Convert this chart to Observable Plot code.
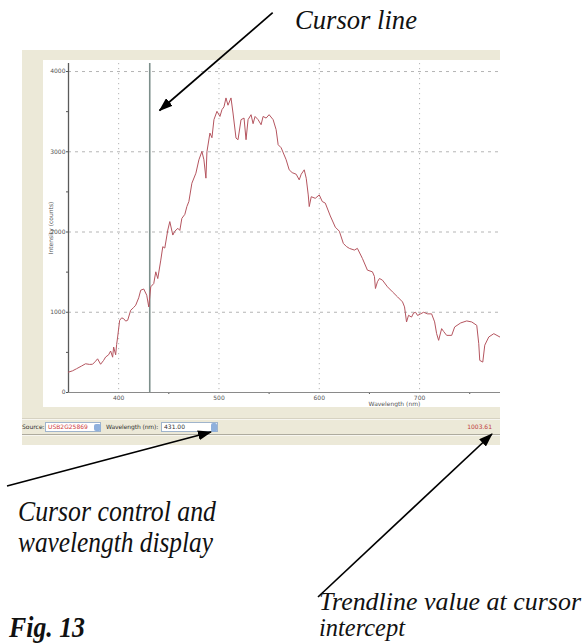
<!DOCTYPE html>
<html><head><meta charset="utf-8">
<script src="https://cdn.jsdelivr.net/npm/d3@7"></script>
<script src="https://cdn.jsdelivr.net/npm/@observablehq/plot@0.6"></script>
<style>
html,body{margin:0;padding:0;background:#fff;}
body{width:587px;height:644px;position:relative;overflow:hidden;font-family:"DejaVu Sans",sans-serif;}
.abs{position:absolute;}
#frame{left:22px;top:50px;width:478px;height:395px;background:#ece9d8;}
#plotbox{left:43px;top:60px;width:457px;height:347px;background:#fff;overflow:hidden;}
#plotbox svg{display:block;max-width:none !important;width:677px !important;height:347px !important;}
.line{height:1px;left:22px;width:478px;}
.tb{font-size:6px;color:#333;line-height:11px;white-space:nowrap;}
.box{background:#fff;border:1px solid #9fb4cc;height:10px;box-sizing:border-box;}
.spin{background:#8fb0dc;border-radius:2px;}
#overlay{left:0;top:0;pointer-events:none;}
</style></head><body>
<div id="frame" class="abs"></div>
<div id="plotbox" class="abs"></div>
<div class="abs line" style="top:418px;background:#d6d2c2"></div>
<div class="abs line" style="top:419px;background:#f7f6f0"></div>
<div class="abs line" style="top:434px;background:#aeab9e"></div>
<div class="abs line" style="top:435px;background:#f7f6f0"></div>
<div class="abs tb" style="left:22px;top:421px">Source:</div>
<div class="abs box" style="left:45px;top:422px;width:56px"></div>
<div id="src" class="abs tb" style="left:48px;top:421px;color:#d03a3a"></div>
<div class="abs spin" style="left:94px;top:424px;width:7px;height:7px"></div>
<div class="abs tb" style="left:106px;top:421px;letter-spacing:-0.1px">Wavelength (nm):</div>
<div class="abs box" style="left:161px;top:422px;width:57px"></div>
<div id="wlval" class="abs tb" style="left:164px;top:421px"></div>
<div class="abs spin" style="left:211px;top:423px;width:6px;height:9px"></div>
<div id="trend" class="abs tb" style="left:440px;top:421px;width:52px;text-align:right;color:#c04040"></div>
<svg id="overlay" class="abs" width="587" height="644"></svg>
<script>
// ---- data ----
const wavelength = [350,354,358,363,367,371,374,377,379,382,385,387,390,392,394,395,397,398,399,401,403,405,407,409,412,415,417,420,422,425,428,430,432,435,437,439,442,444,446,449,451,454,456,459,461,463,466,468,470,473,477,480,483,485,487,488,491,493,495,498,501,503,505,507,509,512,514,517,519,522,525,527,529,532,534,536,539,542,544,547,550,554,557,559,562,565,567,570,573,577,580,582,585,587,589,590,592,596,600,603,606,611,616,620,624,627,630,635,638,643,648,653,655,656,658,660,663,668,673,678,683,685,687,689,692,694,696,698,701,704,708,712,715,717,719,722,724,727,732,735,741,747,752,757,759,760,763,765,769,774,780];
const intensity = [254,270,296,330,358,350,352,390,420,352,400,442,470,517,440,567,470,600,692,900,930,920,890,900,1025,1060,1088,1180,1275,1290,1212,1067,1317,1358,1504,1420,1650,1817,1800,2025,2130,1962,2010,2046,2020,2170,2220,2317,2380,2608,2733,2900,3004,2900,2671,3000,3233,3175,3400,3504,3440,3525,3560,3671,3580,3671,3483,3171,3150,3400,3420,3150,3400,3462,3350,3440,3400,3337,3440,3420,3462,3400,3275,3088,3050,2960,2900,2775,2740,2720,2650,2720,2775,2670,2462,2317,2440,2420,2462,2380,2360,2200,2060,2010,1858,1820,1796,1775,1796,1671,1525,1504,1446,1296,1380,1421,1400,1317,1254,1192,1129,1067,879,962,940,990,1000,960,980,1000,980,980,880,733,650,796,760,712,712,817,867,892,879,837,608,400,379,590,692,733,692];
const xMajorTicks = [400,500,600,700];
const xMinorTicks = [450,550,650,750];
const yMajorTicks = [0,1000,2000,3000,4000];
const yMinorTicks = [500,1500,2500,3500];
const cursorWavelength = 431.00;
const trendlineValue = 1003.61;
const sourceName = "USB2G25869";

const rows = wavelength.map((w,i)=>({w, v: intensity[i]}));
const font = "DejaVu Sans, sans-serif";
const chart = Plot.plot({
  width: 677, height: 347,
  marginLeft: 25, marginRight: 0, marginTop: 3, marginBottom: 15,
  style: {fontFamily: font, fontSize: "6px", color: "#555", background: "transparent", overflow: "visible", maxWidth: "none"},
  x: {domain: [350, 1000]},
  y: {domain: [0, 4100]},
  marks: [
    Plot.gridY({ticks: yMajorTicks.slice(1), stroke: "#a8a8a8", strokeOpacity: 0.85, strokeDasharray: "3,4"}),
    Plot.gridX({ticks: xMajorTicks, stroke: "#a8a8a8", strokeOpacity: 0.85, strokeDasharray: "1.2,3.8"}),
    Plot.axisY({ticks: yMajorTicks, tickSize: 2, tickPadding: 1, tickFormat: d => String(d), label: "Intensity (counts)", labelAnchor: "center", labelOffset: 20, labelArrow: false}),
    Plot.axisY({ticks: yMinorTicks, tickSize: 2, tickFormat: () => "", label: null}),
    Plot.axisX({ticks: xMajorTicks, tickSize: 0, tickPadding: 3, tickFormat: d => String(d), label: "Wavelength (nm)", labelAnchor: "center", labelOffset: 13, labelArrow: false}),
    Plot.axisX({ticks: xMinorTicks, tickSize: 2, tickFormat: () => "", label: null}),
    Plot.ruleY([0], {stroke: "#8a8a8a", strokeWidth: 1}),
    Plot.ruleX([350], {stroke: "#5a5a5a", strokeWidth: 1.3}),
    Plot.ruleX([cursorWavelength], {stroke: "#7d8f8b", strokeWidth: 1.6}),
    Plot.line(rows, {x: "w", y: "v", stroke: "#b5555f", strokeWidth: 1})
  ]
});
document.getElementById("plotbox").appendChild(chart);
document.getElementById("src").textContent = sourceName;
document.getElementById("wlval").textContent = cursorWavelength.toFixed(2);
document.getElementById("trend").textContent = trendlineValue.toFixed(2);

// ---- annotation overlay ----
const ov = d3.select("#overlay");
ov.append("defs").append("marker")
  .attr("id", "ah").attr("viewBox", "0 0 14 10").attr("refX", 13).attr("refY", 5)
  .attr("markerWidth", 14).attr("markerHeight", 10).attr("markerUnits", "userSpaceOnUse")
  .attr("orient", "auto")
  .append("path").attr("d", "M0,0L14,5L0,10Z").attr("fill", "#000");
const arrows = [[272.7,12.7,159.5,110.5],[7,486,211,432],[318,597,492,434]];
arrows.forEach(a => ov.append("line").attr("x1",a[0]).attr("y1",a[1]).attr("x2",a[2]).attr("y2",a[3])
  .attr("stroke","#000").attr("stroke-width",1.7).attr("marker-end","url(#ah)"));
const notes = [
  {t: "Cursor line", x: 295, y: 29, s: 27, len: 122, w: "normal"},
  {t: "Cursor control and", x: 18, y: 521, s: 30, len: 198, w: "normal"},
  {t: "wavelength display", x: 18, y: 552, s: 30, len: 195, w: "normal"},
  {t: "Trendline value at cursor", x: 319, y: 610, s: 25, len: 262, w: "normal"},
  {t: "intercept", x: 319, y: 636, s: 25, len: 86, w: "normal"},
  {t: "Fig. 13", x: 9, y: 637, s: 30, len: 76, w: "bold"}
];
notes.forEach(n => ov.append("text").attr("x", n.x).attr("y", n.y)
  .attr("font-family", "Liberation Serif, serif").attr("font-style", "italic").attr("font-weight", n.w)
  .attr("font-size", n.s).attr("textLength", n.len).attr("lengthAdjust", "spacingAndGlyphs")
  .attr("fill", "#111").text(n.t));
</script>
</body></html>
